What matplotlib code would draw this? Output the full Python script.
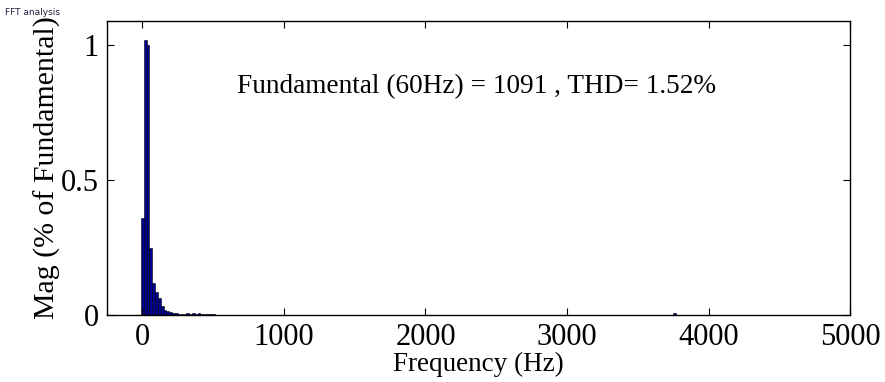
import numpy as np
import matplotlib
matplotlib.use('Agg')
import matplotlib.pyplot as plt

# harmonic spectrum, bins every 20 Hz
freq_step = 20
low_mags = [0.36, 1.02, 1.00, 0.25, 0.12, 0.086, 0.063, 0.033, 0.02, 0.015,
            0.012, 0.009, 0.007, 0.005, 0.004, 0.003, 0.006, 0.003, 0.006,
            0.003, 0.006, 0.003, 0.005, 0.002, 0.005, 0.002]
extra_freqs = [3760]
extra_mags = [0.006]

title_text = 'FFT analysis'
info_text = 'Fundamental (60Hz) = 1091 , THD= 1.52%'
x_ticks = [0, 1000, 2000, 3000, 4000, 5000]
y_ticks = [0, 0.5, 1]

freqs = np.concatenate([np.arange(len(low_mags)) * freq_step, extra_freqs])
mags = np.concatenate([low_mags, extra_mags])

plt.rcParams['font.family'] = ['Liberation Serif', 'DejaVu Serif']

fig = plt.figure(figsize=(8.85, 3.82), dpi=100)
ax = fig.add_axes([0.1209, 0.1754, 0.9605 - 0.1209, 0.945 - 0.1754])

ax.bar(freqs, mags, width=freq_step, color='#00008F', edgecolor='black',
       linewidth=0.4, align='center')

ax.set_xlim(-250, 5000)
ax.set_ylim(0, 1.09)
ax.set_xticks(x_ticks)
ax.set_yticks(y_ticks)
ax.set_yticklabels(['0', '0.5', '1'])
ax.tick_params(direction='in', top=True, right=True, length=5, width=0.8,
               labelsize=22, pad=6)
for s in ax.spines.values():
    s.set_linewidth(1.0)

ax.set_xlabel('Frequency (Hz)', fontsize=19.5, labelpad=0)
ax.set_ylabel('Mag (% of Fundamental)', fontsize=21.5, labelpad=0)
ax.text(671, 0.848, info_text, fontsize=19.6, ha='left', va='center')

fig.text(0.006, 0.967, title_text, fontsize=6.5, family='DejaVu Sans',
         color='#202040', ha='left', va='center')

fig.savefig('out.png', dpi=100, facecolor='white')
